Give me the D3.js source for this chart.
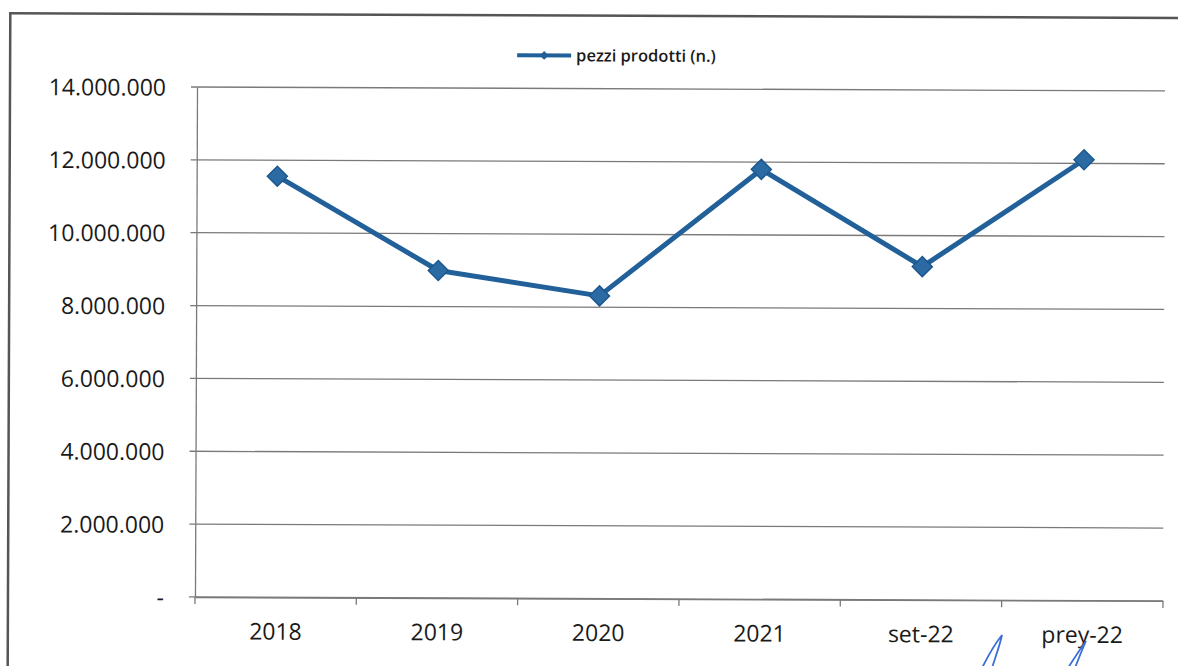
<!DOCTYPE html>
<html>
<head>
<meta charset="utf-8">
<script src="https://cdn.jsdelivr.net/npm/d3@7"></script>
<style>
  body { margin: 0; background: #fff; }
  svg { display: block; }
  text { font-family: "Open Sans", Lato, sans-serif; fill: #1a1a1a; }
</style>
</head>
<body>
<svg id="chart_svg"></svg>
<script>
// chart data
const categories = ["2018", "2019", "2020", "2021", "set-22", "prey-22"];
const pezziProdotti = [11560000, 8990000, 8310000, 11800000, 9150000, 12100000];
const yTicks = [0, 2000000, 4000000, 6000000, 8000000, 10000000, 12000000, 14000000];
const seriesName = "pezzi prodotti (n.)";

const width = 1178, height = 666;
const margin = {top: 87, right: 14, bottom: 69, left: 196};
const lineColor = "#22609a";

const svg = d3.select("#chart_svg")
    .attr("width", width)
    .attr("height", height);

// the scan is a little tilted, so the whole chart is too
const chart = svg.append("g")
    .attr("transform", "rotate(0.23, 196, 340)");

// outer frame of the chart (runs off the page right and bottom)
chart.append("rect")
    .attr("x", 9)
    .attr("y", 14)
    .attr("width", 1220)
    .attr("height", 720)
    .attr("fill", "none")
    .attr("stroke", "#555")
    .attr("stroke-width", 2.5);

const it = d3.formatLocale({decimal: ",", thousands: ".", grouping: [3], currency: ["€", ""]});
const fmt = it.format(",d");

var xScale = d3.scaleBand()
    .domain(categories)
    .range([margin.left, width - margin.right])
    .padding(0);

var yScale = d3.scaleLinear()
    .domain([0, 14000000])
    .range([height - margin.bottom, margin.top]);

// gridlines
chart.append("g")
    .selectAll("line")
    .data(yTicks)
    .enter()
    .append("line")
    .attr("x1", margin.left - 6)
    .attr("x2", width - margin.right)
    .attr("y1", d => yScale(d))
    .attr("y2", d => yScale(d))
    .attr("stroke", "#7a7a7a")
    .attr("stroke-width", 1.3);

// Y axis
const yAxis = d3.axisLeft(yScale)
    .tickValues(yTicks)
    .tickSize(0)
    .tickPadding(31)
    .tickFormat(d => d === 0 ? "-" : fmt(d));

chart.append("g")
    .attr("transform", `translate(${margin.left}, 0)`)
    .call(yAxis)
    .call(g => g.select(".domain").attr("stroke", "#7a7a7a").attr("stroke-width", 1.3))
    .selectAll("text")
        .style("font-size", "23px")
        .style("fill", "#1a1a1a")
        .attr("dy", "0.36em");

// X axis
const xAxis = d3.axisBottom(xScale)
    .tickSize(0)
    .tickPadding(26);

const xg = chart.append("g")
    .attr("transform", `translate(0, ${height - margin.bottom})`)
    .call(xAxis);
xg.select(".domain").attr("stroke", "#7a7a7a").attr("stroke-width", 1.3);
xg.selectAll("text")
    .style("font-size", "23px")
    .style("fill", "#1a1a1a");

// tick marks between the categories
const bounds = categories.map(c => xScale(c)).concat([xScale.range()[1]]);
xg.selectAll(".bound")
    .data(bounds)
    .enter()
    .append("line")
    .attr("class", "bound")
    .attr("x1", d => d)
    .attr("x2", d => d)
    .attr("y1", 0)
    .attr("y2", 7)
    .attr("stroke", "#7a7a7a")
    .attr("stroke-width", 1.3);

// series line
const points = categories.map((c, i) => ({cat: c, value: pezziProdotti[i]}));
const line = d3.line()
    .x(d => xScale(d.cat) + xScale.bandwidth() / 2)
    .y(d => yScale(d.value));

chart.append("path")
    .datum(points)
    .attr("d", line)
    .attr("fill", "none")
    .attr("stroke", lineColor)
    .attr("stroke-width", 5)
    .attr("stroke-linejoin", "round");

// diamond markers
const diamond = d3.symbol().type(d3.symbolSquare).size(200);
chart.selectAll(".marker")
    .data(points)
    .enter()
    .append("path")
    .attr("class", "marker")
    .attr("d", diamond)
    .attr("transform", d => `translate(${xScale(d.cat) + xScale.bandwidth() / 2}, ${yScale(d.value)}) rotate(45)`)
    .attr("fill", "#2b6aa3")
    .attr("stroke", "#1d5890")
    .attr("stroke-width", 1.5);

// legend
const legend = chart.append("g").attr("transform", "translate(516, 54)");
legend.append("line")
    .attr("x1", 0).attr("x2", 54)
    .attr("y1", 0).attr("y2", 0)
    .attr("stroke", lineColor)
    .attr("stroke-width", 4);
legend.append("path")
    .attr("d", d3.symbol().type(d3.symbolSquare).size(40))
    .attr("transform", "translate(27, 0) rotate(45)")
    .attr("fill", lineColor);
legend.append("text")
    .attr("x", 59)
    .attr("y", 0)
    .attr("dy", "0.35em")
    .style("font-size", "16.5px")
    .style("font-weight", "600")
    .text(seriesName);

// handwritten initials from the scan
const ink = svg.append("g")
    .attr("fill", "none")
    .attr("stroke", "#3b6fd6")
    .attr("stroke-width", 1.8)
    .attr("stroke-linecap", "round");
ink.append("path").attr("d", "M982,668 C990,652 998,640 1002,635 C1000,645 995,658 992,668");
ink.append("path").attr("d", "M1068,668 C1075,657 1081,648 1086,641 C1082,650 1078,660 1075,668");
</script>
</body>
</html>
